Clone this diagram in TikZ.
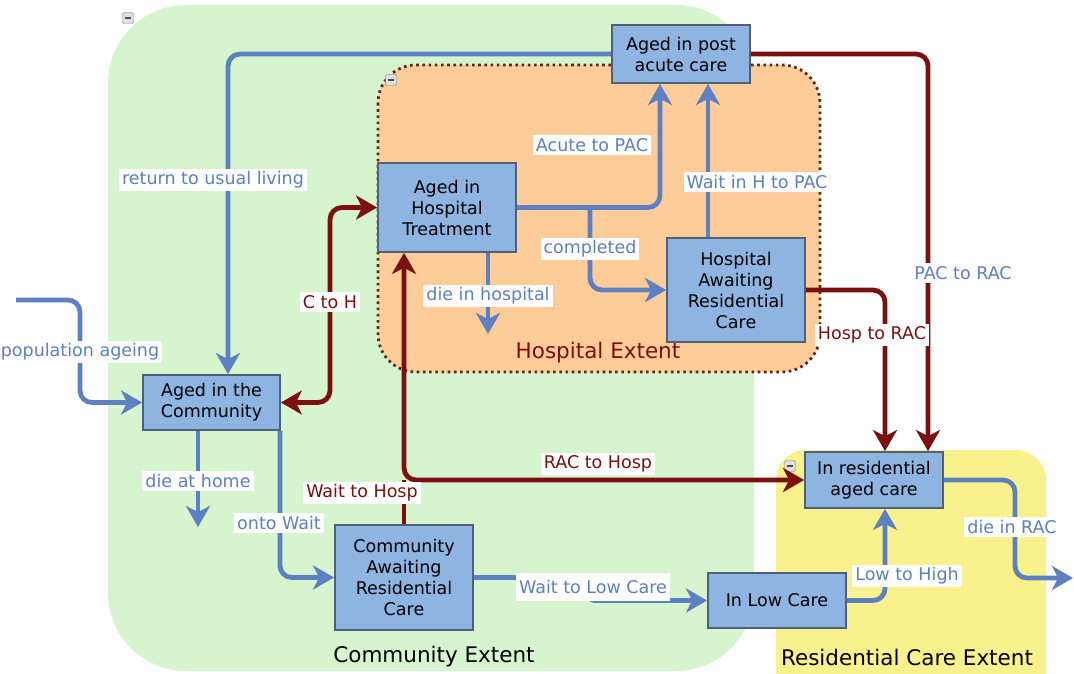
\documentclass[tikz,border=0pt]{standalone}
\usepackage{fontspec}
\setmainfont{DejaVu Sans}
\usetikzlibrary{arrows.meta}
\definecolor{commfill}{RGB}{214,245,206}
\definecolor{hospfill}{RGB}{253,204,153}
\definecolor{resfill}{RGB}{249,241,140}
\definecolor{boxfill}{RGB}{142,180,226}
\definecolor{boxline}{RGB}{77,98,122}
\definecolor{flowblue}{RGB}{92,128,194}
\definecolor{flowred}{RGB}{124,16,16}
\definecolor{dotline}{RGB}{90,40,30}
\tikzset{
  flowtip/.tip={Stealth[length=21pt,width=24pt,inset=6pt]},
  stock/.style={draw=boxline, fill=boxfill, line width=1.8pt, align=center,
    text=black, font=\fontsize{17.5}{21}\selectfont, inner sep=2pt},
  flow/.style={draw=flowblue, line width=4.8pt, rounded corners=12pt, -flowtip},
  redflow/.style={draw=flowred, line width=4.8pt, rounded corners=12pt},
  redtip/.style={-flowtip},
  redboth/.style={flowtip-flowtip},
  flowlabel/.style={fill=white, text=flowblue, inner xsep=3pt, inner ysep=3pt,
    font=\fontsize{17.5}{20}\selectfont},
  redlabel/.style={flowlabel, text=flowred},
  extent/.style={font=\fontsize{21.5}{26}\selectfont},
  collapse/.style={draw=gray, fill=gray!25, minimum size=11pt, inner sep=0pt,
    rounded corners=1.5pt,
    path picture={\draw[line width=1.5pt, black!70]
      ([xshift=2.5pt]path picture bounding box.west) --
      ([xshift=-2.5pt]path picture bounding box.east);}}
}
\begin{document}
\begin{tikzpicture}[x=1pt,y=-1pt]
\useasboundingbox (0,0) rectangle (1074,674);

% extents
\begin{scope}
  \clip (0,0) rectangle (1074,674);
  \fill[commfill, rounded corners=78pt] (108,5) rectangle (754,671);
  \fill[resfill, rounded corners=30pt] (776,450) rectangle (1046,720);
\end{scope}
\filldraw[fill=hospfill, draw=dotline, line width=2.8pt,
  dash pattern=on 2.6pt off 3.6pt, rounded corners=38pt]
  (378,65) rectangle (820,372);

\node[collapse] (c1) at (128,18) {};
\node[collapse] (c2) at (391,80) {};

\node[extent] (commext) at (434,657) {Community Extent};
\node[extent, text=flowred] (hospext) at (598,353) {Hospital Extent};
\node[extent] (resext) at (907,657) {Residential Care Extent};

% stocks
\node[stock, minimum width=138pt, minimum height=58pt] (pac) at (681,54) {Aged in post\\acute care};
\node[stock, minimum width=138pt, minimum height=89pt] (hosp) at (447,207.5) {Aged in\\Hospital\\Treatment};
\node[stock, minimum width=138pt, minimum height=104pt] (hawait) at (736,290) {Hospital\\Awaiting\\Residential\\Care};
\node[stock, minimum width=137pt, minimum height=55pt] (comm) at (211.5,402.5) {Aged in the\\Community};
\node[stock, minimum width=138pt, minimum height=105pt] (cawait) at (404,577.5) {Community\\Awaiting\\Residential\\Care};
\node[stock, minimum width=138pt, minimum height=55pt] (low) at (777,600.5) {In Low Care};
\node[stock, minimum width=138pt, minimum height=56pt] (rac) at (874,480) {In residential\\aged care};
\node[collapse] (c3) at (790,466) {};

% free ends of flows
\coordinate (popsrc) at (16,300);
\coordinate (split) at (590,207.5);
\coordinate (hdeath) at (488,334);
\coordinate (cdeath) at (198,527);
\coordinate (rdeath) at (1073,578);

% blue flows
\draw[flow] (popsrc) -- (80,300) |- (comm.west);
\draw[flow] (pac.west) -| ([xshift=16.5pt]comm.north);
\draw[flow] (hosp.east) -| ([xshift=-21pt]pac.south);
\draw[flow] (split) |- (hawait.west);
\draw[flow] ([xshift=-28pt]hawait.north) -- ([xshift=27pt]pac.south);
\draw[flow] ([xshift=41pt]hosp.south) -- (hdeath);
\draw[flow] ([xshift=-13.5pt]comm.south) -- (cdeath);
\draw[flow] ([xshift=-1pt]comm.south east) |- (cawait.west);
\draw[flow, rounded corners=4pt] (cawait.east) -- (590,577.5) |- (low.west);
\draw[flow] (low.east) -| ([xshift=11pt]rac.south);
\draw[flow] (rac.east) -- (1015,480) -- (1015,578) -- (rdeath);

% red flows
\draw[redflow, redboth] (comm.east) -| (330,305) |- (hosp.west);
\draw[redflow, redboth] ([xshift=-43pt]hosp.south) |- (rac.west);
\draw[redflow] (cawait.north) -- (cawait.north |- rac.west);
\draw[redflow, redtip] (pac.east) -| ([xshift=54pt]rac.north);
\draw[redflow, redtip] (hawait.east) -| ([xshift=11pt]rac.north);

% flow labels
\node[flowlabel] (l1) at (80,352) {population ageing};
\node[flowlabel] (l2) at (213,180) {return to usual living};
\node[flowlabel] (l3) at (592,145) {Acute to PAC};
\node[flowlabel] (l4) at (590,249) {completed};
\node[flowlabel] (l5) at (757,182) {Wait in H to PAC};
\node[flowlabel] (l6) at (488,296) {die in hospital};
\node[flowlabel] (l7) at (198,481) {die at home};
\node[flowlabel] (l8) at (279,523) {onto Wait};
\node[flowlabel, inner ysep=7pt] (l9) at (593,587) {Wait to Low Care};
\node[flowlabel] (l10) at (907,576) {Low to High};
\node[flowlabel] (l11) at (1012,527) {die in RAC};
\node[flowlabel] (l12) at (963,273) {PAC to RAC};
\node[redlabel] (l13) at (330,302) {C to H};
\node[redlabel] (l14) at (598,464) {RAC to Hosp};
\node[redlabel] (l15) at (362,493) {Wait to Hosp};
\node[redlabel] (l16) at (872,335) {Hosp to RAC};
\end{tikzpicture}
\end{document}
